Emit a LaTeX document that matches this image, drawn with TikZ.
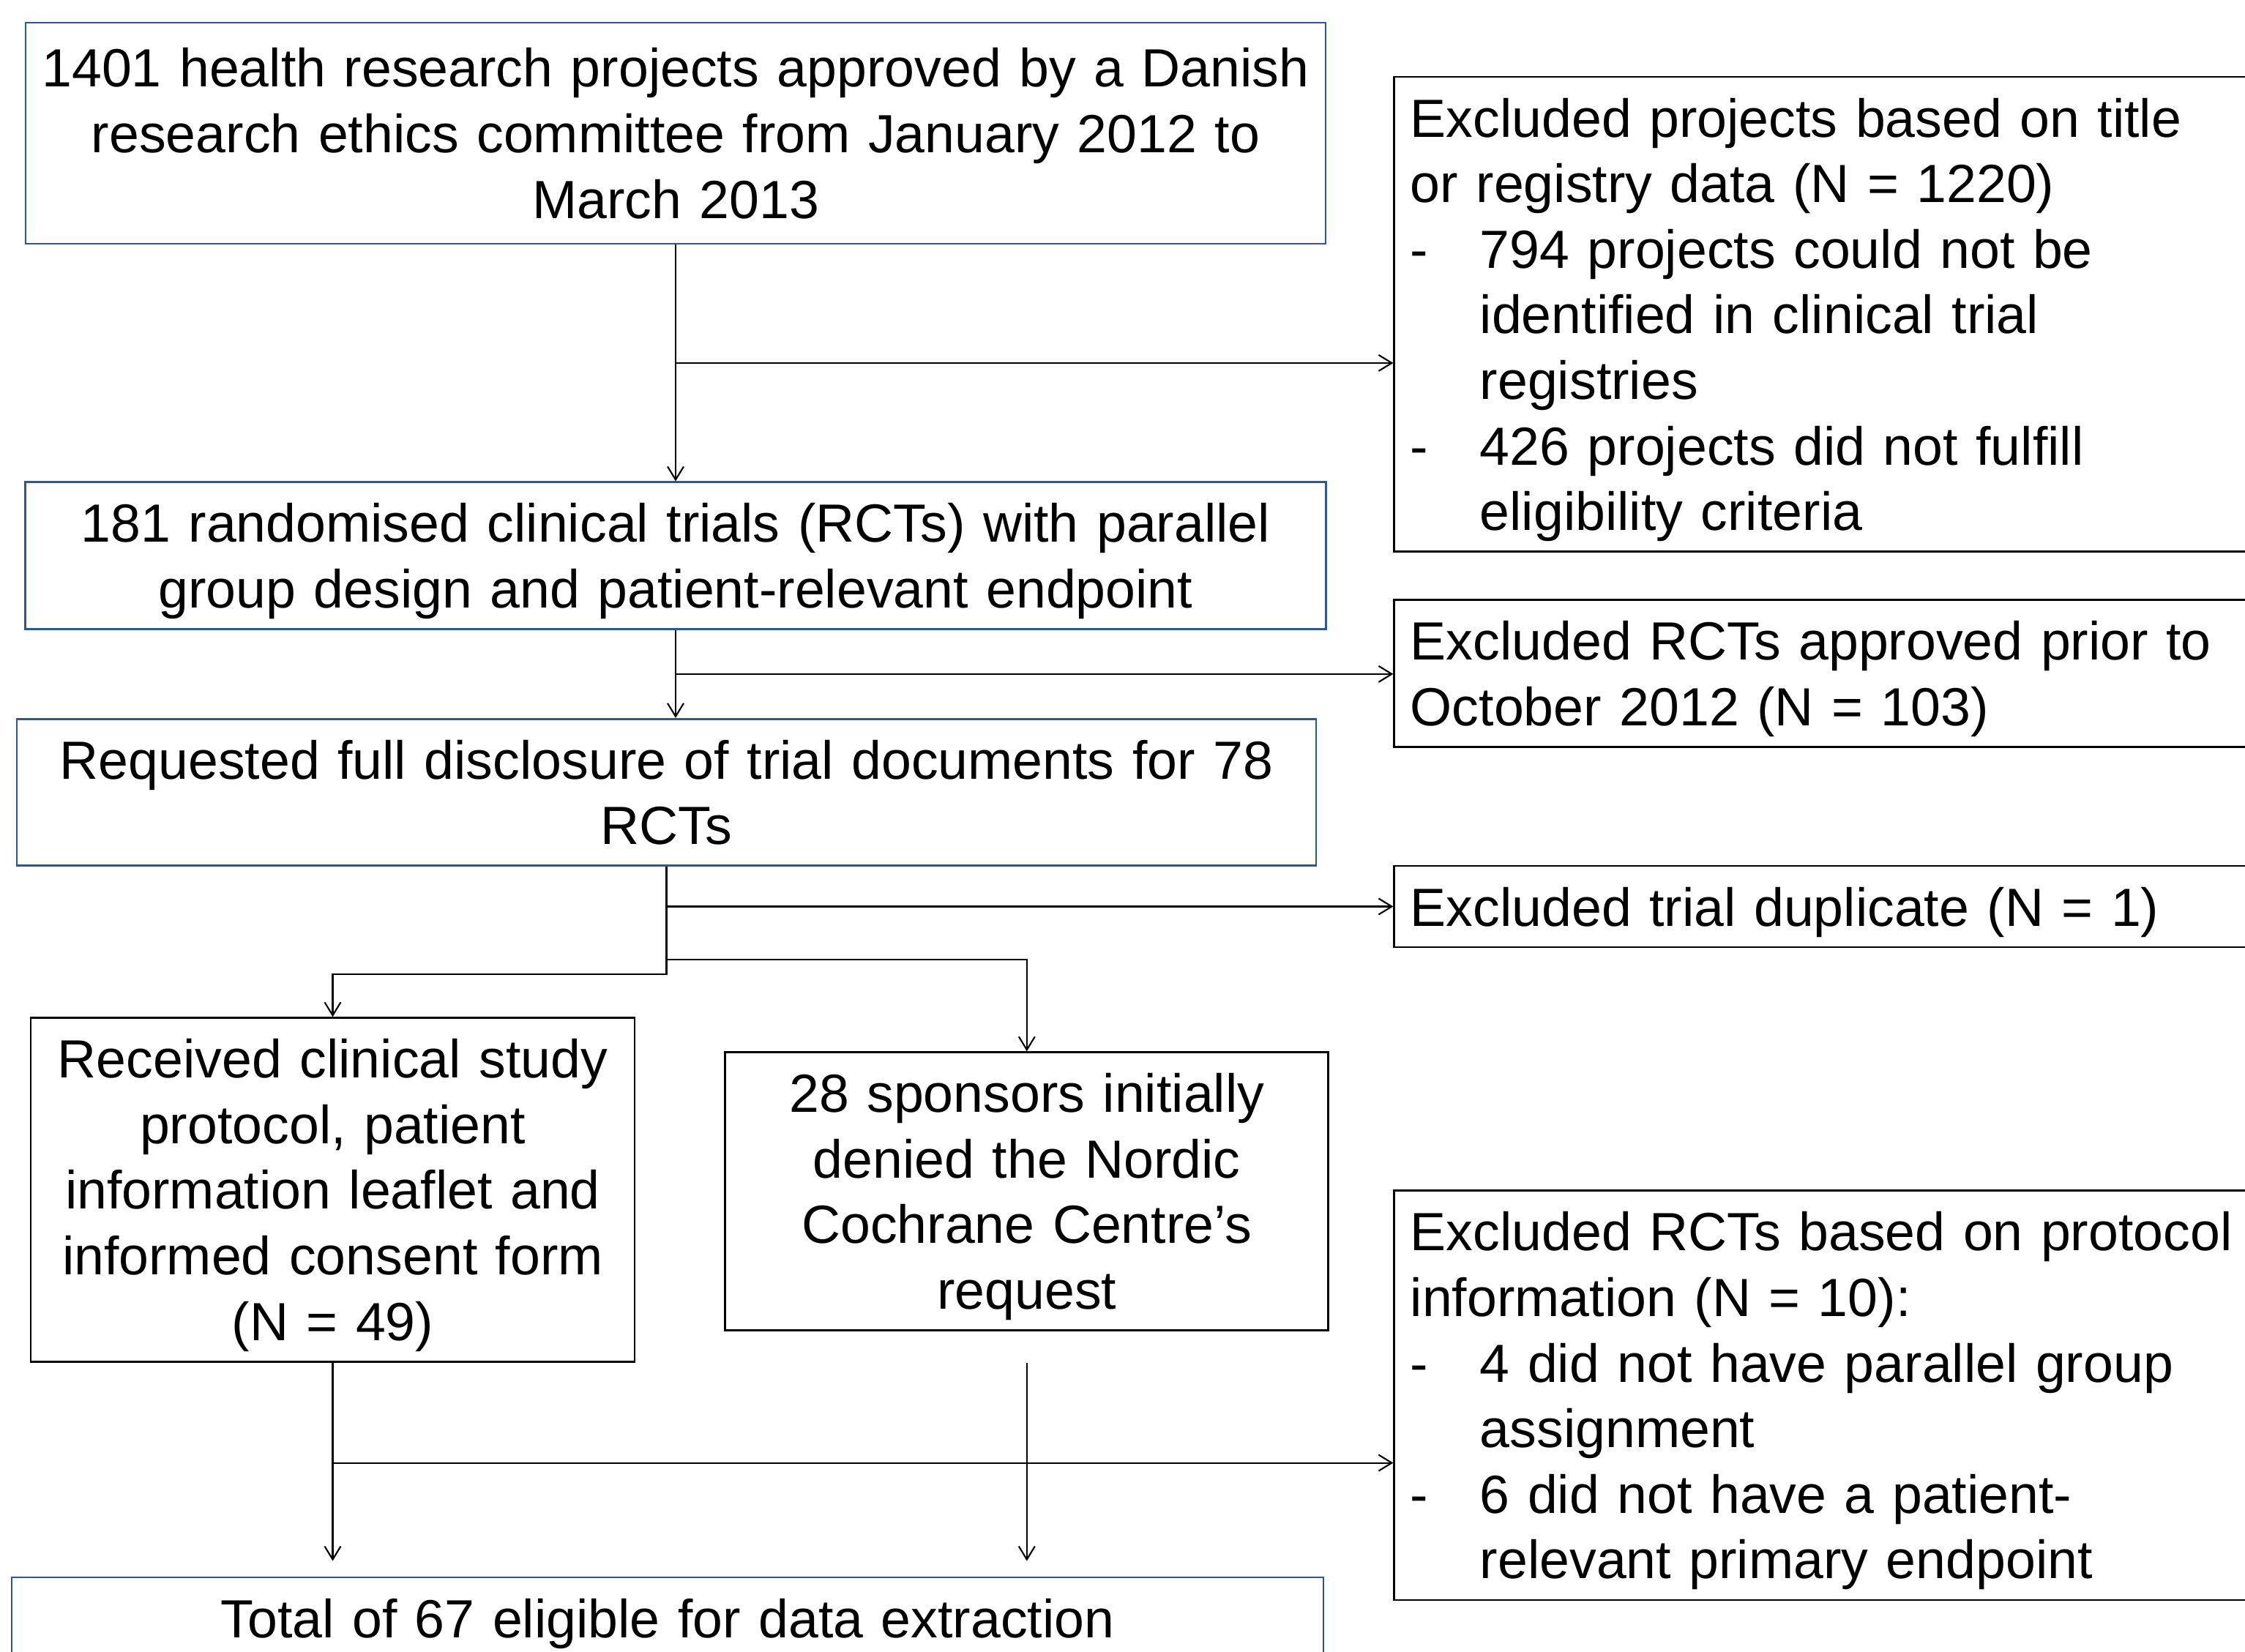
\documentclass[tikz,border=0pt]{standalone}
\usepackage{fontspec}
\setmainfont{Liberation Sans}[Ligatures=NoCommon]
\usetikzlibrary{positioning,calc,arrows.meta}
\definecolor{boxblue}{RGB}{47,85,151}
\newcommand{\exitem}{\makebox[0.95cm][l]{-}}
\newcommand{\excont}{\hspace*{0.95cm}}
\tikzset{%
  every flowbox/.style={
    draw,
    line width=0.8pt,
    inner xsep=0pt,
    inner ysep=0pt,
    execute at begin node=\rule{0pt}{0.82cm},
    execute at end node=\rule[-0.29cm]{0pt}{0.29cm}
  },
}

\begin{document}
\begin{tikzpicture}[>={Straight Barb[length=1.8mm,width=2.2mm]},font={\fontsize{20.9}{25.5}\selectfont}]
        \tikzstyle{stage}=[every flowbox,draw=boxblue,align=center]
        \tikzstyle{result}=[every flowbox,draw=black,align=center]
        \tikzstyle{excluded}=[every flowbox,draw=black,align=left,text width=11.8cm,inner xsep=0.22cm]
        \tikzstyle{link}=[line width=0.6pt]

        \useasboundingbox (0,0) rectangle (30.67,-22.56);
        \clip (0,0) rectangle (30.67,-22.56);

        \node[stage,text width=17.76cm,minimum height=3.02cm] (approved) at (9.23,-1.82) {1401 health research projects approved by a Danish\\research ethics committee from January 2012 to\\March 2013};
        \node[stage,text width=17.77cm,below=3.23cm of approved] (rcts) {181 randomised clinical trials (RCTs) with parallel\\group design and patient-relevant endpoint};
        \node[stage,text width=17.75cm,below=1.2cm of rcts,xshift=-0.125cm] (requested) {Requested full disclosure of trial documents for 78\\RCTs};
        \node[result,text width=8.25cm,below=2.05cm of requested.south west,anchor=north west,xshift=0.19cm] (received) {Received clinical study\\protocol, patient\\information leaflet and\\informed consent form\\(N = 49)};
        \node[result,text width=8.24cm,right=1.21cm of received.north east,anchor=north west,yshift=-0.47cm] (sponsors) {28 sponsors initially\\denied the Nordic\\Cochrane Centre’s\\request};
        \node[stage,text width=17.92cm,below=2.92cm of received.south west,anchor=north west,xshift=-0.26cm] (total) {Total of 67 eligible for data extraction};

        \node[excluded,right=0.91cm of approved.north east,anchor=north west,yshift=-0.74cm] (exproj) {Excluded projects based on title\\or registry data (N = 1220)\\\exitem 794 projects could not be\\\excont identified in clinical trial\\\excont registries\\\exitem 426 projects did not fulfill\\\excont eligibility criteria};
        \node[excluded,below=0.63cm of exproj.south west,anchor=north west] (exprior) {Excluded RCTs approved prior to\\October 2012 (N = 103)};
        \node[excluded,below=1.6cm of exprior.south west,anchor=north west] (exdup) {Excluded trial duplicate (N = 1)};
        \node[excluded,below=3.3cm of exdup.south west,anchor=north west] (exprot) {Excluded RCTs based on protocol\\information (N = 10):\\\exitem 4 did not have parallel group\\\excont assignment\\\exitem 6 did not have a patient-\\\excont relevant primary endpoint};

        \coordinate (split1) at ($(approved.south)!0.5!(approved.south |- rcts.north)$);
        \coordinate (split2) at ($(rcts.south)!0.5!(rcts.south |- requested.north)$);
        \coordinate (split3) at ($(requested.south)+(0,-1.27)$);
        \coordinate (split4) at ($(received.south)+(0,-1.37)$);

        \draw[link,->] (approved.south) -- (approved.south |- rcts.north);
        \draw[link,->] (split1) -- (split1 -| exproj.west);
        \draw[link,->] (rcts.south) -- (rcts.south |- requested.north);
        \draw[link,->] (split2) -- (split2 -| exprior.west);
        \draw[link,->] (requested.south |- exdup.west) -- (exdup.west);
        \draw[link,->] (requested.south) -- ++(0,-1.47) -| (received.north);
        \draw[link,->] (split3) -| (sponsors.north);
        \draw[link,->,shorten >=0.21cm] (received.south) -- (received.south |- total.north);
        \draw[link,->,shorten >=0.21cm] (sponsors.south |- received.south) -- (sponsors.south |- total.north);
        \draw[link,->] (split4) -- (split4 -| exprot.west);
    \end{tikzpicture}
\end{document}
